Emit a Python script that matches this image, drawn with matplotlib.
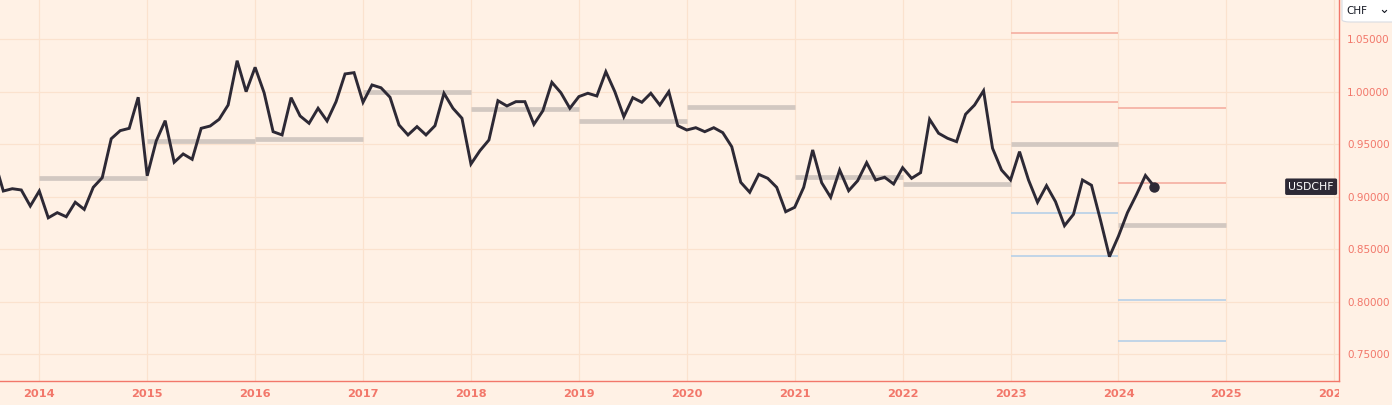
import matplotlib
matplotlib.use('Agg')
import matplotlib.pyplot as plt
import numpy as np
from matplotlib.transforms import Bbox, TransformedBbox, blended_transform_factory
from matplotlib.patches import FancyBboxPatch
from matplotlib.lines import Line2D
from matplotlib import font_manager

# ---------------- data ----------------
start_year = 2013
start_month = 8  # first monthly close: Aug 2013
usdchf = [
    0.935, 0.9055, 0.9077, 0.9065, 0.8912,                                   # 2013 Aug-Dec
    0.9055, 0.880, 0.8849, 0.881, 0.8948, 0.888, 0.909, 0.9182, 0.9553, 0.963, 0.9652, 0.9948,   # 2014
    0.920, 0.9531, 0.9725, 0.9329, 0.9408, 0.9357, 0.9652, 0.9674, 0.9738, 0.9874, 1.0296, 1.0001,  # 2015
    1.0233, 0.9991, 0.962, 0.9589, 0.9944, 0.977, 0.970, 0.9843, 0.9722, 0.9906, 1.017, 1.0182,    # 2016
    0.990, 1.0065, 1.0038, 0.9948, 0.9684, 0.9589, 0.9668, 0.9589, 0.9677, 0.9986, 0.9843, 0.9748,  # 2017
    0.9312, 0.9439, 0.9541, 0.9915, 0.9865, 0.9906, 0.9906, 0.969, 0.982, 1.009, 0.9991, 0.9843,    # 2018
    0.9954, 0.9986, 0.996, 1.0191, 1.0001, 0.9763, 0.9944, 0.990, 0.9986, 0.9874, 1.0001, 0.9677,   # 2019
    0.9636, 0.9658, 0.962, 0.9658, 0.9611, 0.9477, 0.9138, 0.9043, 0.9214, 0.9176, 0.909, 0.8858,   # 2020
    0.890, 0.909, 0.9446, 0.9134, 0.8995, 0.9255, 0.9058, 0.9153, 0.9325, 0.916, 0.9186, 0.9122,    # 2021
    0.9277, 0.9176, 0.923, 0.9738, 0.9605, 0.9557, 0.9525, 0.9786, 0.9874, 1.001, 0.9462, 0.9255,   # 2022
    0.916, 0.943, 0.916, 0.8948, 0.9106, 0.8954, 0.8725, 0.8833, 0.916, 0.911, 0.8779, 0.843,       # 2023
    0.8625, 0.8849, 0.902, 0.9203, 0.9096,                                                          # 2024
]

avg_years = [2014, 2015, 2016, 2017, 2018, 2019, 2020, 2021, 2022, 2023, 2024]
avg_values = [0.9182, 0.9531, 0.955, 0.9995, 0.9836, 0.9725, 0.9858, 0.9186, 0.9122, 0.9503, 0.8733]

band_years = [2023, 2024]
upper_outer = [1.0557, 0.9843]
upper_inner = [0.9903, 0.9131]
lower_inner = [0.8845, 0.8020]
lower_outer = [0.8441, 0.7624]

year_ticks = list(range(2014, 2027))
price_ticks = [0.75, 0.80, 0.85, 0.90, 0.95, 1.00, 1.05]
series_name = "USDCHF"
currency = "CHF"

# ---------------- style ----------------
BG = '#FFF1E5'
GRID = '#FBE2CE'
SALMON = '#F2776A'
LINE = '#2D2935'
AVG = '#D2C8C1'
RED = '#F6B4A6'
BLUE = '#BCD3E8'

# pick a condensed bold font for the year labels if one is installed
names = {f.name for f in font_manager.fontManager.ttflist}
year_family = 'DejaVu Sans'
year_size = 8.2
for cand, size in [('Liberation Sans Narrow', 10.0), ('DejaVu Sans Condensed', 9.0)]:
    if cand in names:
        year_family, year_size = cand, size
        break

W, H = 1392, 405
fig = plt.figure(figsize=(W / 100, H / 100), dpi=100, facecolor=BG)
ax_right = 1338.6
ax_bottom = 24
ax = fig.add_axes([0, ax_bottom / H, ax_right / W, (H - ax_bottom) / H])
ax.set_facecolor(BG)

x = start_year + (start_month - 1) / 12 + np.arange(len(usdchf)) / 12

# yearly average bars
ax.hlines(avg_values, avg_years, [y + 1 for y in avg_years], colors=AVG, lw=3.4, zorder=2)
# bands
for vals, col in [(upper_outer, RED), (upper_inner, RED), (lower_inner, BLUE), (lower_outer, BLUE)]:
    ax.hlines(vals, band_years, [y + 1 for y in band_years], colors=col, lw=1.3, zorder=2)

ax.plot(x, usdchf, color=LINE, lw=2.1, solid_joinstyle='miter', zorder=3)
ax.plot(x[-1], usdchf[-1], 'o', color=LINE, ms=6.5, zorder=4)

ax.set_xlim(2013.636, 2026.04)
ax.set_ylim(0.7246, 1.0874)

ax.set_xticks(year_ticks)
ax.set_xticklabels([str(y) for y in year_ticks])
ax.set_yticks(price_ticks)
ax.set_yticklabels([f"{v:.5f}" for v in price_ticks])
ax.yaxis.tick_right()
ax.tick_params(axis='y', length=0, pad=6, labelsize=7.5, labelcolor=SALMON)
ax.tick_params(axis='x', length=0, pad=6, labelsize=year_size, labelcolor=SALMON)
for lab in ax.get_xticklabels():
    lab.set_fontfamily(year_family)
    lab.set_fontweight('bold')

ax.grid(True, color=GRID, lw=0.9)
ax.set_axisbelow(True)

for s in ['left', 'top']:
    ax.spines[s].set_visible(False)
for s in ['right', 'bottom']:
    ax.spines[s].set_color(SALMON)
    ax.spines[s].set_linewidth(1.0)

# clip x labels at the price scale
clipbox = TransformedBbox(Bbox([[0, 0], [ax_right / W, 1]]), fig.transFigure)
for lab in ax.get_xticklabels():
    lab.set_clip_on(True)
    lab.set_clip_box(clipbox)

# last value label
trans = blended_transform_factory(ax.transAxes, ax.transData)
ax.annotate(series_name, xy=(1.0, usdchf[-1]), xycoords=trans,
            xytext=(-3.4, 0), textcoords='offset points',
            ha='right', va='center', color='white', fontsize=7.8,
            bbox=dict(boxstyle='round,pad=0.3,rounding_size=0.15', fc=LINE, ec='none'),
            zorder=6, annotation_clip=False)

# currency selector box
box = FancyBboxPatch((1342 / W, (H - 22) / H), 60 / W, 40 / H,
                     boxstyle='round,pad=0,rounding_size=0.006',
                     transform=fig.transFigure, fc='white', ec='#D9DCE3', lw=0.8)
fig.add_artist(box)
fig.text(1346 / W, (H - 11.5) / H, currency, ha='left', va='center', fontsize=7.5, color='#131722')
fig.add_artist(Line2D([1382.5 / W, 1384.5 / W, 1386.5 / W],
                      [(H - 10.5) / H, (H - 12.5) / H, (H - 10.5) / H],
                      transform=fig.transFigure, color='#131722', lw=0.8))

fig.savefig('out.png', dpi=100, facecolor=BG)
